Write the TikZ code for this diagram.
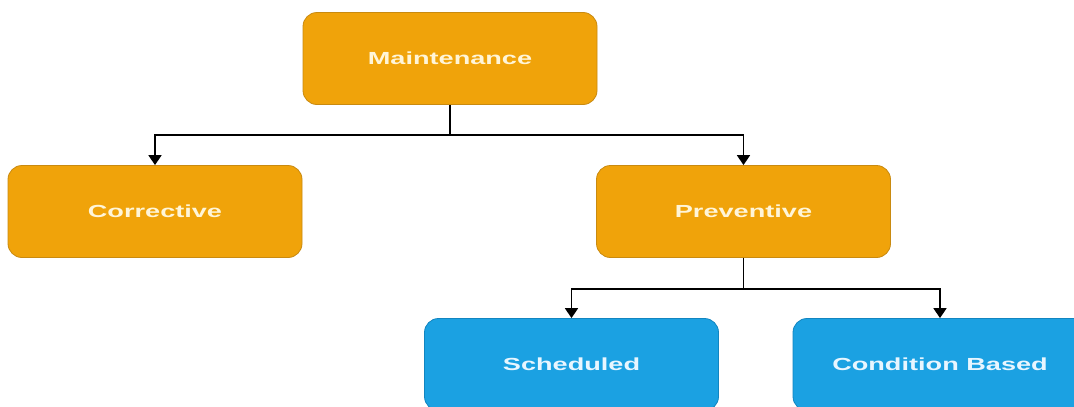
\documentclass[tikz,border=0pt]{standalone}
\usepackage{fontspec}
\setmainfont{Liberation Sans}
\usetikzlibrary{arrows.meta}
\definecolor{orfill}{HTML}{F0A30A}
\definecolor{ordraw}{HTML}{C98A10}
\definecolor{blfill}{HTML}{1BA1E2}
\definecolor{bldraw}{HTML}{1285C0}
\definecolor{txtor}{HTML}{FFF5D8}
\definecolor{txtbl}{HTML}{E8F6FF}
\tikzset{
  box/.style={rectangle, rounded corners=14pt, minimum width=294pt, minimum height=92pt, line width=0.8pt, inner sep=0pt},
  orbox/.style={box, fill=orfill, draw=ordraw, text=txtor},
  blbox/.style={box, fill=blfill, draw=bldraw, text=txtbl},
  conn/.style={line width=1.8pt, -{Triangle[width=13pt,length=10pt]}},
}
\newcommand{\lbl}[1]{\scalebox{1.55}[1]{\fontsize{17.5}{19}\selectfont\bfseries #1}}
\begin{document}
\begin{tikzpicture}[x=1pt,y=-1pt]
\useasboundingbox (0,0) rectangle (1074,407);
\clip (0,0) rectangle (1074,407);
\fill[white] (0,0) rectangle (1074,407);
\node[orbox] (M) at (450,58.5) {\lbl{Maintenance}};
\node[orbox] (C) at (155,211.5) {\lbl{Corrective}};
\node[orbox] (P) at (743.5,211.5) {\lbl{Preventive}};
\node[blbox] (S) at (571.5,364.5) {\lbl{Scheduled}};
\node[blbox] (B) at (940,364.5) {\lbl{Condition Based}};
\draw[conn] (M.south) -- +(0,30) -| (C.north);
\draw[conn] (M.south) -- +(0,30) -| (P.north);
\draw[conn] (P.south) -- +(0,31) -| (S.north);
\draw[conn] (P.south) -- +(0,31) -| (B.north);
\end{tikzpicture}
\end{document}
